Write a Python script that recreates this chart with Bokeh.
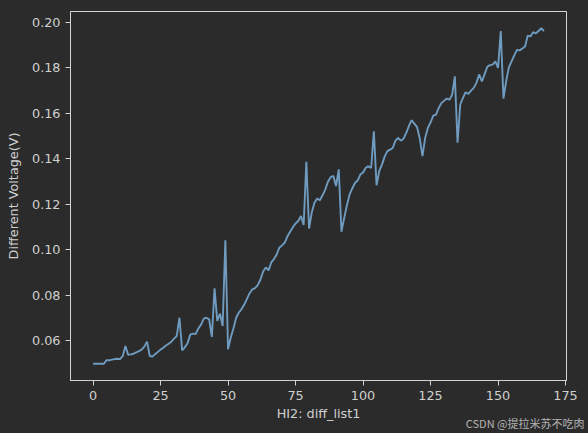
from bokeh.plotting import figure
from bokeh.models import Range1d, FixedTicker, NumeralTickFormatter, Title
from bokeh.embed import file_html
from bokeh.resources import INLINE

# ---- data ----
x_ticks = [0, 25, 50, 75, 100, 125, 150, 175]
y_ticks = [0.06, 0.08, 0.10, 0.12, 0.14, 0.16, 0.18, 0.20]

diff_list1 = [
    0.0500, 0.0500, 0.0500, 0.0500, 0.0500, 0.0516, 0.0515, 0.0518, 0.0520, 0.0522,
    0.0520, 0.0534, 0.0578, 0.0539, 0.0541, 0.0544, 0.0550, 0.0555, 0.0562, 0.0575,
    0.0597, 0.0534, 0.0531, 0.0542, 0.0552, 0.0562, 0.0570, 0.0580, 0.0588, 0.0597,
    0.0610, 0.0622, 0.0702, 0.0559, 0.0572, 0.0590, 0.0628, 0.0632, 0.0630, 0.0655,
    0.0672, 0.0698, 0.0702, 0.0695, 0.0618, 0.0831, 0.0688, 0.0720, 0.0666, 0.1042,
    0.0564, 0.0615, 0.0655, 0.0702, 0.0725, 0.0740, 0.0760, 0.0785, 0.0810, 0.0827,
    0.0832, 0.0845, 0.0870, 0.0905, 0.0923, 0.0910, 0.0945, 0.0960, 0.0980, 0.1010,
    0.1020, 0.1032, 0.1060, 0.1080, 0.1100, 0.1116, 0.1127, 0.1149, 0.1110, 0.1387,
    0.1094, 0.1164, 0.1207, 0.1226, 0.1218, 0.1240, 0.1265, 0.1300, 0.1320, 0.1325,
    0.1281, 0.1354, 0.1080, 0.1140, 0.1195, 0.1243, 0.1270, 0.1294, 0.1305, 0.1331,
    0.1340, 0.1361, 0.1368, 0.1360, 0.1521, 0.1284, 0.1346, 0.1375, 0.1410, 0.1434,
    0.1441, 0.1448, 0.1480, 0.1492, 0.1480, 0.1489, 0.1514, 0.1545, 0.1570, 0.1555,
    0.1540, 0.1490, 0.1412, 0.1492, 0.1536, 0.1560, 0.1590, 0.1594, 0.1623, 0.1645,
    0.1655, 0.1665, 0.1660, 0.1682, 0.1763, 0.1471, 0.1639, 0.1668, 0.1693, 0.1686,
    0.1700, 0.1712, 0.1734, 0.1771, 0.1741, 0.1771, 0.1805, 0.1812, 0.1814, 0.1829,
    0.1800, 0.1962, 0.1665, 0.1741, 0.1802, 0.1829, 0.1855, 0.1879, 0.1877, 0.1885,
    0.1894, 0.1942, 0.1938, 0.1957, 0.1952, 0.1962, 0.1974, 0.1962,
]
index = list(range(len(diff_list1)))

x_label = "HI2: diff_list1"
y_label = "Different Voltage(V)"
watermark = "CSDN @提拉米苏不吃肉"

# ---- style ----
BG = "#2b2b2b"
SPINE = "#d4d4d4"
TEXT = "#d0d0d0"
LINE = "#6e9bbf"
FONT = "DejaVu Sans"
FS = "12.8px"

n = len(diff_list1)
xm = 0.05 * (n - 1)
ymin, ymax = min(diff_list1), max(diff_list1)
ym = 0.05 * (ymax - ymin)

p = figure(
    width=588, height=433,
    output_backend="svg", toolbar_location=None,
    x_range=Range1d(-xm, (n - 1) + xm),
    y_range=Range1d(ymin - ym, ymax + ym),
    min_border_left=70, min_border_right=22,
    min_border_top=11, min_border_bottom=53,
    background_fill_color=BG, border_fill_color=BG,
    outline_line_color=SPINE, outline_line_width=1,
)
p.grid.visible = False

p.line(index, diff_list1, line_color=LINE, line_width=1.9)

for ax in (p.xaxis[0], p.yaxis[0]):
    ax.axis_line_color = SPINE
    ax.axis_line_width = 1
    ax.major_tick_line_color = SPINE
    ax.major_tick_in = 0
    ax.major_tick_out = 5
    ax.minor_tick_line_color = None
    ax.major_label_text_color = TEXT
    ax.major_label_text_font = FONT
    ax.major_label_text_font_size = FS
    ax.major_label_standoff = 5
    ax.axis_label_text_color = TEXT
    ax.axis_label_text_font = FONT
    ax.axis_label_text_font_size = FS
    ax.axis_label_text_font_style = "normal"

p.xaxis[0].ticker = FixedTicker(ticks=x_ticks)
p.yaxis[0].ticker = FixedTicker(ticks=y_ticks)
p.yaxis[0].formatter = NumeralTickFormatter(format="0.00")
p.xaxis[0].axis_label = x_label
p.yaxis[0].axis_label = y_label
p.xaxis[0].axis_label_standoff = 3
p.yaxis[0].axis_label_standoff = 8

p.add_layout(Title(
    text=watermark, align="right", vertical_align="top",
    offset=-18, standoff=-18,
    text_font="Noto Sans CJK SC", text_font_size="11px",
    text_font_style="normal", text_color="#b4b4b4",
), "below")

html = file_html(p, INLINE)
html = html.replace("</head>", "<style>html,body{background:#2b2b2b;}</style></head>", 1)
open("out.html", "w").write(html)
